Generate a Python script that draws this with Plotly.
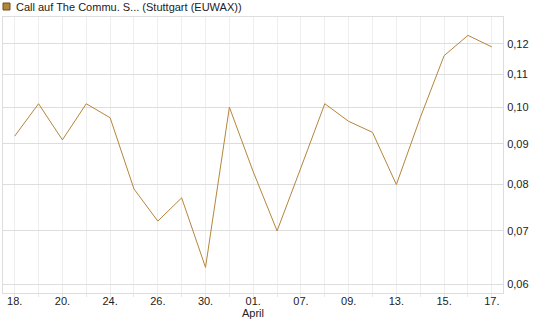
import math
import plotly.graph_objects as go

dates = ["2015-03-18", "2015-03-19", "2015-03-20", "2015-03-23", "2015-03-24",
         "2015-03-25", "2015-03-26", "2015-03-27", "2015-03-30", "2015-03-31",
         "2015-04-01", "2015-04-02", "2015-04-07", "2015-04-08", "2015-04-09",
         "2015-04-10", "2015-04-13", "2015-04-14", "2015-04-15", "2015-04-16",
         "2015-04-17"]
values = [0.092, 0.101, 0.091, 0.101, 0.097, 0.079, 0.072, 0.077, 0.063, 0.100,
          0.083, 0.070, 0.084, 0.101, 0.096, 0.093, 0.080, 0.097, 0.116, 0.123,
          0.119]
tick_text = ["18.", "", "20.", "", "24.", "", "26.", "", "30.", "", "01.", "",
             "07.", "", "09.", "", "13.", "", "15.", "", "17."]
y_ticks = [0.06, 0.07, 0.08, 0.09, 0.10, 0.11, 0.12]
y_tick_text = ["0,06", "0,07", "0,08", "0,09", "0,10", "0,11", "0,12"]
series_name = "Call auf The Commu. S... (Stuttgart (EUWAX))"
month_label = "April"

line_color = "#B5853B"
font = dict(family="Liberation Sans, Arial, sans-serif", size=11, color="#222")

W, H = 545, 327
ML, MR, MT, MB = 3, 42, 17, 34
PW, PH = W - ML - MR, H - MT - MB

def px_x(px):
    return (px - ML) / PW

def px_y(py):
    return (H - MB - py) / PH

fig = go.Figure()
fig.add_trace(go.Scatter(x=dates, y=values, mode="lines",
                         line=dict(color=line_color, width=1),
                         showlegend=False, hoverinfo="skip"))

fig.update_layout(
    width=W, height=H,
    margin=dict(l=ML, r=MR, t=MT, b=MB),
    paper_bgcolor="white", plot_bgcolor="white",
    font=font,
    showlegend=False,
    xaxis=dict(type="category", tickvals=dates, ticktext=tick_text,
               range=[-0.49, 20.47], showgrid=True, gridcolor="#EEEEEE",
               gridwidth=1, ticks="outside", ticklen=3, tickcolor="#E6E6E6",
               ticklabelstandoff=-5,
               showline=True, linecolor="#DDDDDD", mirror=True, zeroline=False,
               tickfont=font, fixedrange=True),
    yaxis=dict(type="log", side="right",
               range=[math.log10(0.05852), math.log10(0.1297)],
               tickvals=y_ticks, ticktext=y_tick_text, showgrid=True,
               gridcolor="#DDDDDD", gridwidth=1, ticks="outside", ticklen=4,
               tickcolor="rgba(0,0,0,0)", ticklabelstandoff=-3,
               showline=True, linecolor="#DDDDDD",
               mirror=True, zeroline=False, tickfont=font, fixedrange=True),
    annotations=[
        dict(text=month_label, x=dates[10], xref="x", y=px_y(313), yref="paper",
             showarrow=False, xanchor="center", yanchor="middle", font=font),
        dict(text=series_name, x=px_x(14), xref="paper", y=px_y(7), yref="paper",
             xanchor="left", yanchor="middle", showarrow=False, font=font),
    ],
    shapes=[
        dict(type="rect", xref="paper", yref="paper",
             x0=px_x(3), x1=px_x(10), y0=px_y(3), y1=px_y(10),
             fillcolor=line_color, line=dict(color="#6E5020", width=1)),
    ],
)
fig.write_html("out.html")
